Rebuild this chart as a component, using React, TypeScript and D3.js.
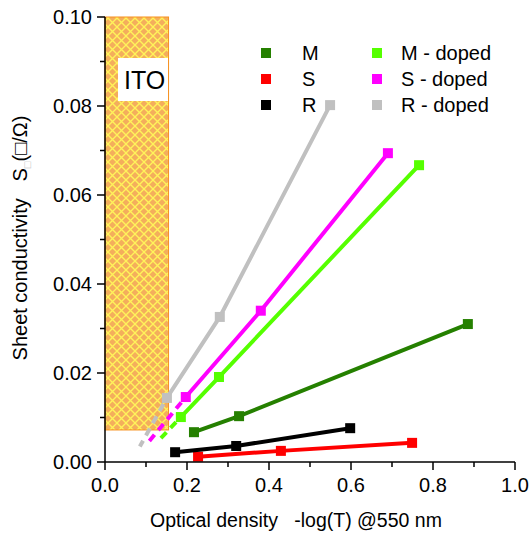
import React from "react";
import * as d3 from "d3";

// series values: [optical density, sheet conductivity]
const mPoints = [[0.217, 0.0067], [0.327, 0.0103], [0.885, 0.031]];
const sPoints = [[0.227, 0.0012], [0.429, 0.0025], [0.749, 0.0043]];
const rPoints = [[0.171, 0.0022], [0.32, 0.0036], [0.598, 0.0076]];
const mDopedPoints = [[0.185, 0.0101], [0.278, 0.0191], [0.766, 0.0667]];
const sDopedPoints = [[0.197, 0.0146], [0.38, 0.034], [0.69, 0.0694]];
const rDopedPoints = [[0.151, 0.0144], [0.28, 0.0326], [0.549, 0.0802]];
// where the dashed extrapolation ends (x value)
const dashedEnds = { "M - doped": 0.128, "S - doped": 0.104, "R - doped": 0.085 };

const xTicks = [0, 0.2, 0.4, 0.6, 0.8, 1.0];
const xMinor = [0.1, 0.3, 0.5, 0.7, 0.9];
const yTicks = [0, 0.02, 0.04, 0.06, 0.08, 0.1];
const yMinor = [0.01, 0.03, 0.05, 0.07, 0.09];
const itoRange = [0, 0.155, 0.0072, 0.1];

const series = [
  { name: "M", color: "#258000", pts: mPoints },
  { name: "S", color: "#ff0000", pts: sPoints },
  { name: "R", color: "#000000", pts: rPoints },
  { name: "M - doped", color: "#55ff00", pts: mDopedPoints },
  { name: "S - doped", color: "#ff00ff", pts: sDopedPoints },
  { name: "R - doped", color: "#c0c0c0", pts: rDopedPoints },
];

const width = 529;
const height = 535;
const font = "'Liberation Sans', Arial, sans-serif";

export default function App() {
  const x = d3.scaleLinear().domain([0, 1]).range([105, 515]);
  const y = d3.scaleLinear().domain([0, 0.1]).range([462, 17]);
  const line = d3.line<number[]>().x(d => x(d[0])).y(d => y(d[1]));

  const [ix0, ix1, iy0, iy1] = itoRange;

  return (
    <svg
      width={width}
      height={height}
      style={{ position: "absolute", left: 0, top: 0, background: "#fff" }}
      fontFamily={font}
    >
      <defs>
        <pattern id="hatch" width={9} height={9} patternUnits="userSpaceOnUse">
          <rect width={9} height={9} fill="#f4ae5c" />
          <path d="M-1,-1L10,10M10,-1L-1,10" stroke="#fff35a" strokeWidth={1.4} />
        </pattern>
      </defs>

      {/* ITO band */}
      <rect
        x={x(ix0)}
        y={y(iy1)}
        width={x(ix1) - x(ix0)}
        height={y(iy0) - y(iy1)}
        fill="url(#hatch)"
        stroke="#f7901e"
        strokeWidth={1}
      />
      <rect x={118} y={58} width={50} height={43} fill="#fff" />
      <text x={124} y={89} fontSize={25}>ITO</text>

      {/* lines */}
      {series.map(s => {
        const end = (dashedEnds as any)[s.name];
        const first = s.pts[0];
        const last = s.pts[s.pts.length - 1];
        let dashed = null;
        if (end !== undefined) {
          const slope = (last[1] - first[1]) / (last[0] - first[0]);
          const ext = [[first[0], first[1]], [end, first[1] + slope * (end - first[0])]];
          dashed = (
            <path d={line(ext) || ""} fill="none" stroke={s.color} strokeWidth={4} strokeDasharray="8,6" strokeDashoffset={-7} />
          );
        }
        return (
          <g key={s.name}>
            {dashed}
            <path d={line(s.pts) || ""} fill="none" stroke={s.color} strokeWidth={4} />
            {s.pts.map((p, i) => (
              <rect key={i} x={x(p[0]) - 5} y={y(p[1]) - 5} width={10} height={10} fill={s.color} />
            ))}
          </g>
        );
      })}

      {/* axes */}
      <line x1={105} y1={17} x2={105} y2={462} stroke="#000" strokeWidth={1.5} />
      <line x1={105} y1={462} x2={515} y2={462} stroke="#000" strokeWidth={1.5} />
      {xTicks.map(t => (
        <g key={t}>
          <line x1={x(t)} x2={x(t)} y1={462} y2={470} stroke="#000" strokeWidth={1.5} />
          <text x={x(t)} y={492} fontSize={20} textAnchor="middle">{t.toFixed(1)}</text>
        </g>
      ))}
      {xMinor.map(t => (
        <line key={t} x1={x(t)} x2={x(t)} y1={462} y2={467} stroke="#000" strokeWidth={1.5} />
      ))}
      {yTicks.map(t => (
        <g key={t}>
          <line x1={97} x2={105} y1={y(t)} y2={y(t)} stroke="#000" strokeWidth={1.5} />
          <text x={92} y={y(t) + 7} fontSize={20} textAnchor="end">{t.toFixed(2)}</text>
        </g>
      ))}
      {yMinor.map(t => (
        <line key={t} x1={100} x2={105} y1={y(t)} y2={y(t)} stroke="#000" strokeWidth={1.5} />
      ))}

      {/* axis titles */}
      <text x={296} y={527} fontSize={19.5} textAnchor="middle">
        Optical density {"\u00a0\u00a0"}-log(T) @550 nm
      </text>
      <text transform="translate(27,238) rotate(-90)" fontSize={20} textAnchor="middle">
        Sheet conductivity {"\u00a0\u00a0"}S
        <tspan fontSize={11} dy={4} fill="#bbb">□</tspan>
        <tspan dy={-4}>(□/Ω)</tspan>
      </text>

      {/* legend */}
      {series.map((s, i) => {
        const col = i < 3 ? 0 : 1;
        const row = i % 3;
        const mx = col === 0 ? 266 : 377;
        const tx = col === 0 ? 302 : 401;
        const my = 53 + row * 26;
        return (
          <g key={s.name}>
            <rect x={mx - 5} y={my - 5} width={10} height={10} fill={s.color} />
            <text x={tx} y={my + 7} fontSize={20}>{s.name}</text>
          </g>
        );
      })}
    </svg>
  );
}
